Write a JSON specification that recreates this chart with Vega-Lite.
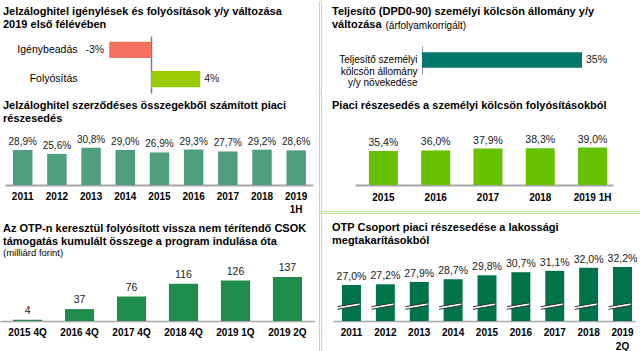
{
  "$schema": "https://vega.github.io/schema/vega-lite/v6.json",
  "padding": 0,
  "autosize": {"type": "pad"},
  "background": "white",
  "columns": 3,
  "spacing": 0,
  "bounds": "flush",
  "align": "each",
  "config": {
    "view": {"stroke": null},
    "font": "Liberation Sans",
    "title": {"anchor": "start", "frame": "group", "fontSize": 11, "fontWeight": "bold", "color": "#000000", "lineHeight": 13, "baseline": "bottom", "subtitleFontSize": 9.5, "subtitleColor": "#000000", "subtitleFontWeight": "normal"},
    "axis": {"grid": false, "ticks": false, "tickSize": 0, "labelColor": "#000000", "labelFont": "Liberation Sans", "title": null},
    "text": {"font": "Liberation Sans", "color": "#1a1a1a"},
    "locale": {"number": {"decimal": ",", "thousands": " ", "grouping": [3], "currency": ["", "%"], "minus": "-"}}
  },
  "concat": [
    {
      "width": 319,
      "height": 92,
      "title": {"text": ["Jelzáloghitel igénylések és folyósítások y/y változása", "2019 első félévében"], "offset": -29, "dx": 3},
      "data": {"values": [{"kategoria": "Igénybeadás", "valtozas": -3.4}, {"kategoria": "Folyósítás", "valtozas": 4.0}]},
      "encoding": {
        "y": {"field": "kategoria", "type": "nominal", "sort": null, "scale": {"range": [35, 92], "paddingInner": 0.45, "paddingOuter": 0.2}, "axis": {"orient": "left", "offset": -151, "domainColor": "#808080", "domainWidth": 1.5, "labelPadding": 74, "labelFontSize": 10.5}},
        "x": {"field": "valtozas", "type": "quantitative", "scale": {"domain": [-12.28, 12.11], "range": [0, 300]}, "axis": null}
      },
      "layer": [
        {"mark": {"type": "bar"}, "encoding": {"color": {"field": "kategoria", "type": "nominal", "scale": {"domain": ["Igénybeadás", "Folyósítás"], "range": ["#f4705f", "#99cc00"]}, "legend": null}}},
        {"transform": [{"filter": "datum.valtozas < 0"}], "mark": {"type": "text", "align": "right", "dx": -5, "fontSize": 10.5}, "encoding": {"text": {"field": "valtozas", "type": "quantitative", "format": "$.0f"}}},
        {"transform": [{"filter": "datum.valtozas >= 0"}], "mark": {"type": "text", "align": "left", "dx": 4, "fontSize": 10.5}, "encoding": {"text": {"field": "valtozas", "type": "quantitative", "format": "$.0f"}}}
      ]
    },
    {
      "width": 2, "height": 92,
      "data": {"values": [{}]},
      "mark": {"type": "point", "opacity": 0},
      "encoding": {},
      "view": {"stroke": "#c2e296", "strokeWidth": 1}
    },
    {
      "width": 319,
      "height": 92,
      "title": {"text": ["Teljesítő (DPD0-90) személyi kölcsön állomány y/y", "változása"], "offset": -29, "dx": 11},
      "data": {"values": [{"kategoria": "Teljesítő személyi|kölcsön állomány|y/y növekedése", "novekedes": 35}]},
      "encoding": {
        "y": {"field": "kategoria", "type": "nominal", "scale": {"range": [45, 73], "paddingInner": 0.45, "paddingOuter": 0.225}, "axis": {"orient": "left", "offset": -101, "domainColor": "#999999", "domainWidth": 1, "labelPadding": 5, "labelFontSize": 10, "labelLineHeight": 11.5, "labelExpr": "split(datum.label, '|')"}},
        "x": {"field": "novekedes", "type": "quantitative", "scale": {"domain": [-19.69, 45.94], "range": [11, 311]}, "axis": {"orient": "top", "domain": false, "labels": false, "ticks": false, "title": "(árfolyamkorrigált)", "titleFontWeight": "normal", "titleFontSize": 10, "titleColor": "#000000", "titleFont": "Liberation Sans", "titleAnchor": "start", "titleAlign": "left", "titleAngle": 0, "titleBaseline": "alphabetic", "titleX": 64, "titleY": 27}}
      },
      "layer": [
        {"mark": {"type": "bar", "color": "#00786b"}},
        {"mark": {"type": "text", "align": "left", "dx": 4, "fontSize": 10.5}, "encoding": {"text": {"field": "novekedes", "type": "quantitative", "format": "$.0f"}}}
      ]
    },
    {
      "width": 319,
      "height": 118,
      "title": {"text": ["Jelzáloghitel szerződéses összegekből számított piaci", "részesedés"], "offset": -31, "dx": 3},
      "data": {"values": [
        {"ev": "2011", "reszesedes": 28.9}, {"ev": "2012", "reszesedes": 25.6}, {"ev": "2013", "reszesedes": 30.8},
        {"ev": "2014", "reszesedes": 29.0}, {"ev": "2015", "reszesedes": 26.9}, {"ev": "2016", "reszesedes": 29.3},
        {"ev": "2017", "reszesedes": 27.7}, {"ev": "2018", "reszesedes": 29.2}, {"ev": "2019 1H", "reszesedes": 28.6}
      ]},
      "encoding": {
        "x": {"field": "ev", "type": "nominal", "sort": null, "scale": {"range": [5, 313], "paddingInner": 0.43, "paddingOuter": 0.22, "align": 0.53}, "axis": {"offset": -26, "labelAngle": 0, "domainColor": "#a6a6a6", "domainWidth": 2, "labelPadding": 6, "labelFontWeight": "bold", "labelFontSize": 10, "labelLineHeight": 13, "labelBaseline": "top", "labelExpr": "split(datum.label, ' ')"}},
        "y": {"field": "reszesedes", "type": "quantitative", "scale": {"domain": [0, 76.03], "range": [92, 0]}, "axis": null}
      },
      "layer": [
        {"mark": {"type": "bar", "color": "#4f9e7e"}},
        {"mark": {"type": "text", "baseline": "bottom", "dy": -3, "fontSize": 10}, "encoding": {"text": {"field": "reszesedes", "type": "quantitative", "format": "$.1f"}}}
      ]
    },
    {
      "width": 2, "height": 118,
      "data": {"values": [{}]},
      "mark": {"type": "point", "opacity": 0},
      "encoding": {},
      "view": {"stroke": "#c2e296", "strokeWidth": 1}
    },
    {
      "width": 319,
      "height": 118,
      "title": {"text": "Piaci részesedés a személyi kölcsön folyósításokból", "offset": -18, "dx": 11},
      "data": {"values": [
        {"ev": "2015", "reszesedes": 35.4}, {"ev": "2016", "reszesedes": 36.0}, {"ev": "2017", "reszesedes": 37.9},
        {"ev": "2018", "reszesedes": 38.3}, {"ev": "2019 1H", "reszesedes": 39.0}
      ]},
      "encoding": {
        "x": {"field": "ev", "type": "nominal", "sort": null, "scale": {"range": [34, 292], "paddingInner": 0.445, "paddingOuter": 0.19, "align": 0.7}, "axis": {"offset": -26, "labelAngle": 0, "domainColor": "#a6a6a6", "domainWidth": 2, "labelPadding": 7, "labelFontWeight": "bold", "labelFontSize": 10, "labelBaseline": "top"}},
        "y": {"field": "reszesedes", "type": "quantitative", "scale": {"domain": [0, 95.83], "range": [92, 0]}, "axis": null}
      },
      "layer": [
        {"mark": {"type": "bar", "color": "#66c100"}},
        {"mark": {"type": "text", "baseline": "bottom", "dy": -3, "fontSize": 10.5}, "encoding": {"text": {"field": "reszesedes", "type": "quantitative", "format": "$.1f"}}}
      ]
    },
    {
      "width": 319, "height": 2,
      "data": {"values": [{}]},
      "mark": {"type": "point", "opacity": 0},
      "encoding": {}
    },
    {
      "width": 2, "height": 2,
      "data": {"values": [{}]},
      "mark": {"type": "point", "opacity": 0},
      "encoding": {},
      "view": {"stroke": "#c2e296", "strokeWidth": 1}
    },
    {
      "width": 330, "height": 2,
      "data": {"values": [{}]},
      "mark": {"type": "point", "opacity": 0},
      "encoding": {},
      "view": {"stroke": "#c2e296", "strokeWidth": 1}
    },
    {
      "width": 319,
      "height": 139,
      "title": {"text": ["Az OTP-n keresztül folyósított vissza nem térítendő CSOK", "támogatás kumulált összege a program indulása óta"], "subtitle": "(milliárd forint)", "subtitlePadding": 1, "offset": -44, "dx": 3},
      "data": {"values": [
        {"idoszak": "2015 4Q", "osszeg": 4}, {"idoszak": "2016 4Q", "osszeg": 37}, {"idoszak": "2017 4Q", "osszeg": 76},
        {"idoszak": "2018 4Q", "osszeg": 116}, {"idoszak": "2019 1Q", "osszeg": 126}, {"idoszak": "2019 2Q", "osszeg": 137}
      ]},
      "encoding": {
        "x": {"field": "idoszak", "type": "nominal", "sort": null, "scale": {"range": [0, 315], "paddingInner": 0.44, "paddingOuter": 0.25, "align": 0.5}, "axis": {"offset": -31, "labelAngle": 0, "domainColor": "#a6a6a6", "domainWidth": 1.5, "labelPadding": 6, "labelFontWeight": "bold", "labelFontSize": 10, "labelBaseline": "top"}},
        "y": {"field": "osszeg", "type": "quantitative", "scale": {"domain": [0, 336.2], "range": [108, 0]}, "axis": null}
      },
      "layer": [
        {"mark": {"type": "bar", "color": "#1f8b4c"}},
        {"mark": {"type": "text", "baseline": "bottom", "dy": -4, "fontSize": 10.5}, "encoding": {"text": {"field": "osszeg", "type": "quantitative", "format": "d"}}}
      ]
    },
    {
      "width": 2, "height": 139,
      "data": {"values": [{}]},
      "mark": {"type": "point", "opacity": 0},
      "encoding": {},
      "view": {"stroke": "#c2e296", "strokeWidth": 1}
    },
    {
      "width": 319,
      "height": 139,
      "title": {"text": ["OTP Csoport piaci részesedése a lakossági", "megtakarításokból"], "offset": -33, "dx": 11},
      "data": {"values": [
        {"ev": "2011", "reszesedes": 27.0}, {"ev": "2012", "reszesedes": 27.2}, {"ev": "2013", "reszesedes": 27.9},
        {"ev": "2014", "reszesedes": 28.7}, {"ev": "2015", "reszesedes": 29.8}, {"ev": "2016", "reszesedes": 30.7},
        {"ev": "2017", "reszesedes": 31.1}, {"ev": "2018", "reszesedes": 32.0}, {"ev": "2019 2Q", "reszesedes": 32.2}
      ]},
      "encoding": {
        "x": {"field": "ev", "type": "nominal", "sort": null, "scale": {"range": [12, 314], "paddingInner": 0.44, "paddingOuter": 0.177, "align": 0.75}, "axis": {"offset": -31, "labelAngle": 0, "domainColor": "#a6a6a6", "domainWidth": 1.5, "labelPadding": 6, "labelFontWeight": "bold", "labelFontSize": 10, "labelLineHeight": 14, "labelBaseline": "top", "labelExpr": "split(datum.label, ' ')"}},
        "y": {"field": "reszesedes", "type": "quantitative", "scale": {"domain": [16.6, 47.81], "range": [108, 0], "zero": false}, "axis": null}
      },
      "layer": [
        {"mark": {"type": "bar", "color": "#007349"}, "encoding": {"y2": {"datum": 16.6}}},
        {"mark": {"type": "point", "shape": "M-1,0.05L1,-0.29L1,-0.05L-1,0.29Z", "filled": true, "color": "white", "opacity": 1, "size": 484, "xOffset": -3}, "encoding": {"y": {"datum": 20.9}}},
        {"mark": {"type": "point", "shape": "M-1,0.05L1,-0.29M-1,0.29L1,-0.05", "filled": false, "color": "#333333", "strokeWidth": 1, "opacity": 1, "size": 484, "xOffset": -3}, "encoding": {"y": {"datum": 20.9}}},
        {"mark": {"type": "text", "baseline": "bottom", "dy": -3, "fontSize": 10.5}, "encoding": {"text": {"field": "reszesedes", "type": "quantitative", "format": "$.1f"}}}
      ]
    }
  ]
}
